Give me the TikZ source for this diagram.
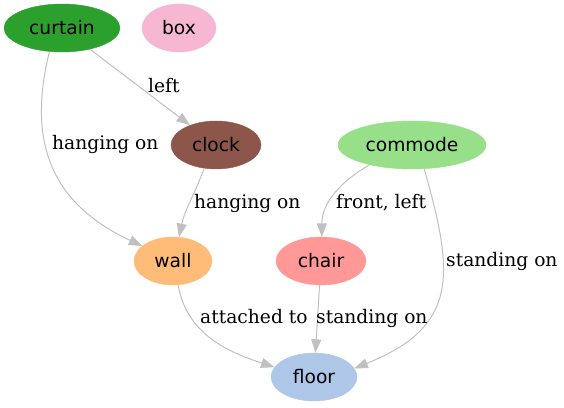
\documentclass[tikz,border=0pt]{standalone}
\usepackage{fontspec}
\setmainfont{DejaVu Serif}
\newfontfamily\nodefont{DejaVu Sans}
\usetikzlibrary{shapes.geometric,arrows.meta}
\definecolor{cCurtain}{HTML}{2CA02C}
\definecolor{cBox}{HTML}{F7B6D2}
\definecolor{cClock}{HTML}{8C564B}
\definecolor{cCommode}{HTML}{98DF8A}
\definecolor{cWall}{HTML}{FFBB78}
\definecolor{cChair}{HTML}{FF9896}
\definecolor{cFloor}{HTML}{AEC7E8}
\definecolor{cEdge}{HTML}{C0C0C0}
\tikzset{
  obj/.style={ellipse, inner sep=0pt, minimum height=48pt, fill=#1, draw=#1,
    font=\nodefont\fontsize{18.67}{22}\selectfont},
  edge/.style={draw=cEdge, line width=1pt, -{Triangle[length=13.5pt,width=10pt]}},
  lbl/.style={anchor=base west, inner sep=0pt, font=\fontsize{18.67}{22}\selectfont}
}
\begin{document}
\begin{tikzpicture}[x=1pt,y=1pt]
\useasboundingbox (0,0) rectangle (564,-407);
\node[obj=cCurtain, minimum width=116pt] (curtain) at (62,-28) {curtain};
\node[obj=cBox, minimum width=74pt] (box) at (179,-28) {box};
\node[obj=cClock, minimum width=90pt] (clock) at (216,-145) {clock};
\node[obj=cCommode, minimum width=148pt] (commode) at (412,-145) {commode};
\node[obj=cWall, minimum width=78pt] (wall) at (173,-261) {wall};
\node[obj=cChair, minimum width=90pt] (chair) at (321,-261) {chair};
\node[obj=cFloor, minimum width=86pt] (floor) at (314,-377) {floor};

\draw[edge] (curtain.242) to[out=256, in=155, looseness=1.15] (wall.154);
\draw[edge] (curtain) -- (clock);
\draw[edge] (clock.243) to[out=250, in=78] (wall.76);
\draw[edge] (commode.205) to[out=210, in=90] (chair.88);
\draw[edge] (commode.297) to[out=286, in=22, looseness=1.35] (floor.12);
\draw[edge] (wall.282) to[out=280, in=162] (floor.166);
\draw[edge] (chair) -- (floor);

\node[lbl] (l1) at (148,-92) {left};
\node[lbl] (l2) at (52,-149) {hanging on};
\node[lbl] (l3) at (194,-208) {hanging on};
\node[lbl] (l4) at (336,-208) {front, left};
\node[lbl] (l5) at (446,-266) {standing on};
\node[lbl] (l6) at (200,-323) {attached to};
\node[lbl] (l7) at (316,-323) {standing on};
\end{tikzpicture}
\end{document}
